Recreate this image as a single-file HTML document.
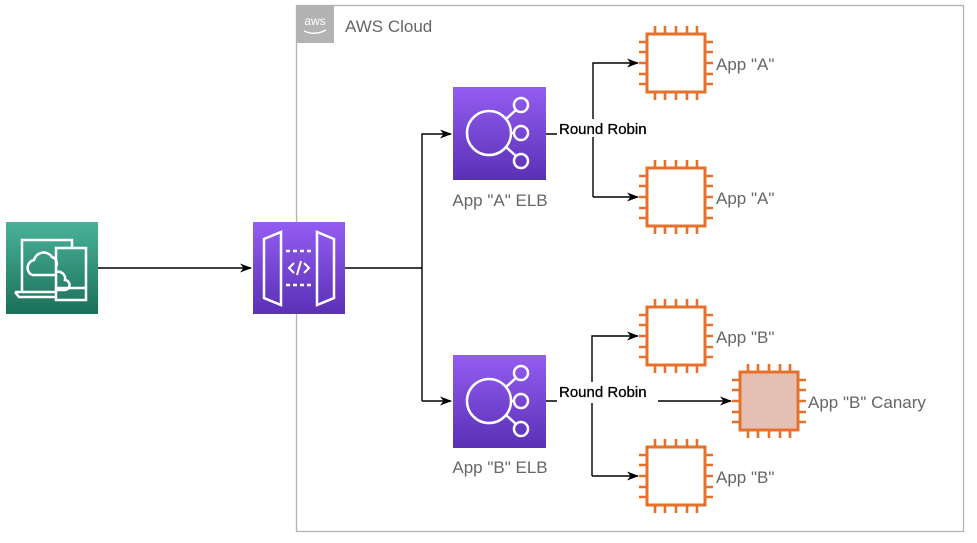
<!DOCTYPE html>
<html><head><meta charset="utf-8"><style>
html,body{margin:0;padding:0;background:#fff;}
svg{display:block;font-family:"Liberation Sans",Arial,sans-serif;}
</style></head><body>
<svg width="977" height="543" viewBox="0 0 977 543" xmlns="http://www.w3.org/2000/svg">
<defs>
<linearGradient id="pg" x1="0" y1="0" x2="0" y2="1"><stop offset="0" stop-color="#945DF2"/><stop offset="1" stop-color="#5A30B5"/></linearGradient>
<linearGradient id="gg" x1="0" y1="0" x2="0" y2="1"><stop offset="0" stop-color="#4AB29A"/><stop offset="1" stop-color="#1B7059"/></linearGradient>
<marker id="ar" markerWidth="12" markerHeight="10" refX="11" refY="5" orient="auto" markerUnits="userSpaceOnUse"><path d="M0,0.5 L12,5 L0,9.5 L3.5,5 Z" fill="#000"/></marker>
<g id="chip">
<rect x="0" y="0" width="58" height="58" fill="none" stroke="#E7712B" stroke-width="3"/>
<g stroke="#E7712B" stroke-width="2.6">
<path d="M8,0v-8M18,0v-8M29,0v-8M40,0v-8M50,0v-8M8,58v8M18,58v8M29,58v8M40,58v8M50,58v8M0,8h-8M0,18h-8M0,29h-8M0,40h-8M0,50h-8M58,8h8M58,18h8M58,29h8M58,40h8M58,50h8"/>
</g>
</g>
<g id="elb">
<rect width="93" height="93" fill="url(#pg)"/>
<g fill="none" stroke="#fff" stroke-width="2.5">
<circle cx="36" cy="46" r="22"/>
<circle cx="68" cy="18" r="7"/><circle cx="68" cy="46" r="7"/><circle cx="68" cy="74" r="7"/>
<path d="M53,32 L63,23 M58,46 H61 M53,60 L63,69"/>
</g>
</g>
</defs>

<rect x="296.5" y="5.5" width="667" height="526" fill="none" stroke="#B3B3B3" stroke-width="1.3"/>
<rect x="296" y="5" width="38" height="38" fill="#B3B3B3"/>
<text x="315" y="25" font-size="12" fill="#fff" text-anchor="middle">aws</text>
<path d="M304,31 Q315,36 326,30" stroke="#fff" stroke-width="1.5" fill="none"/>
<text x="345" y="32" font-size="17" fill="#666">AWS Cloud</text>

<rect x="6" y="222" width="92" height="92" fill="url(#gg)"/>
<g fill="none" stroke="#fff" stroke-width="2.5">
<path d="M22,292 V240 H72 V248"/>
<path d="M15,292 H56 M15,292 l4,5 H56"/>
<rect x="56" y="248" width="30" height="52"/>
<path d="M56,288 H86"/>
<path d="M32,275 a8,8 0 0 1 2,-15 a10,10 0 0 1 18,-3 a7,7 0 0 1 4,10"/>
<path d="M56,272 a7,7 0 0 1 9,8 a5,5 0 0 1 -1,10 H56"/>
<path d="M32,275 H56"/>
</g>

<rect x="253" y="222" width="92" height="92" fill="url(#pg)"/>
<g fill="none" stroke="#fff" stroke-width="2.5">
<path d="M264,239 L281,232 V305 L264,298 Z"/>
<path d="M334,239 L317,232 V305 L334,298 Z"/>
<path d="M286,251 H312 M286,285 H312" stroke-dasharray="4,3"/>
<path d="M294,263 L289,268 L294,273 M304,263 L309,268 L304,273 M301,261 L297,275" stroke-width="2"/>
</g>

<g stroke="#000" stroke-width="1.4" fill="none">
<path d="M98,268 H251" marker-end="url(#ar)"/>
<path d="M345,268 H422"/>
<path d="M422,401 V134 H451" marker-end="url(#ar)"/>
<path d="M422,401 H451" marker-end="url(#ar)"/>
<path d="M546,134 H593"/>
<path d="M593,197 V63 H638" marker-end="url(#ar)"/>
<path d="M593,197 H638" marker-end="url(#ar)"/>
<path d="M546,401 H592"/>
<path d="M592,476 V336 H638" marker-end="url(#ar)"/>
<path d="M592,476 H638" marker-end="url(#ar)"/>
<path d="M592,401 H731" marker-end="url(#ar)"/>
</g>

<use href="#elb" x="453" y="87"/>
<use href="#elb" x="453" y="355"/>
<text x="500" y="206" font-size="17" fill="#666" text-anchor="middle">App "A" ELB</text>
<text x="500" y="473" font-size="17" fill="#666" text-anchor="middle">App "B" ELB</text>

<rect x="557" y="119" width="101" height="18" fill="#fff"/>
<text x="559" y="134" font-size="15" fill="#000" stroke="#000" stroke-width="0.3">Round Robin</text>
<rect x="557" y="382" width="101" height="21" fill="#fff"/>
<text x="559" y="397" font-size="15" fill="#000" stroke="#000" stroke-width="0.3">Round Robin</text>

<use href="#chip" x="647" y="34"/>
<use href="#chip" x="647" y="168"/>
<use href="#chip" x="647" y="307"/>
<use href="#chip" x="647" y="447"/>
<rect x="740" y="373" width="58" height="56" fill="#E6BFB4"/>
<use href="#chip" x="740" y="372"/>

<text x="716" y="70" font-size="17" fill="#666">App "A"</text>
<text x="716" y="204" font-size="17" fill="#666">App "A"</text>
<text x="716" y="343" font-size="17" fill="#666">App "B"</text>
<text x="716" y="483" font-size="17" fill="#666">App "B"</text>
<text x="808" y="408" font-size="17" fill="#666">App "B" Canary</text>
</svg>
</body></html>
